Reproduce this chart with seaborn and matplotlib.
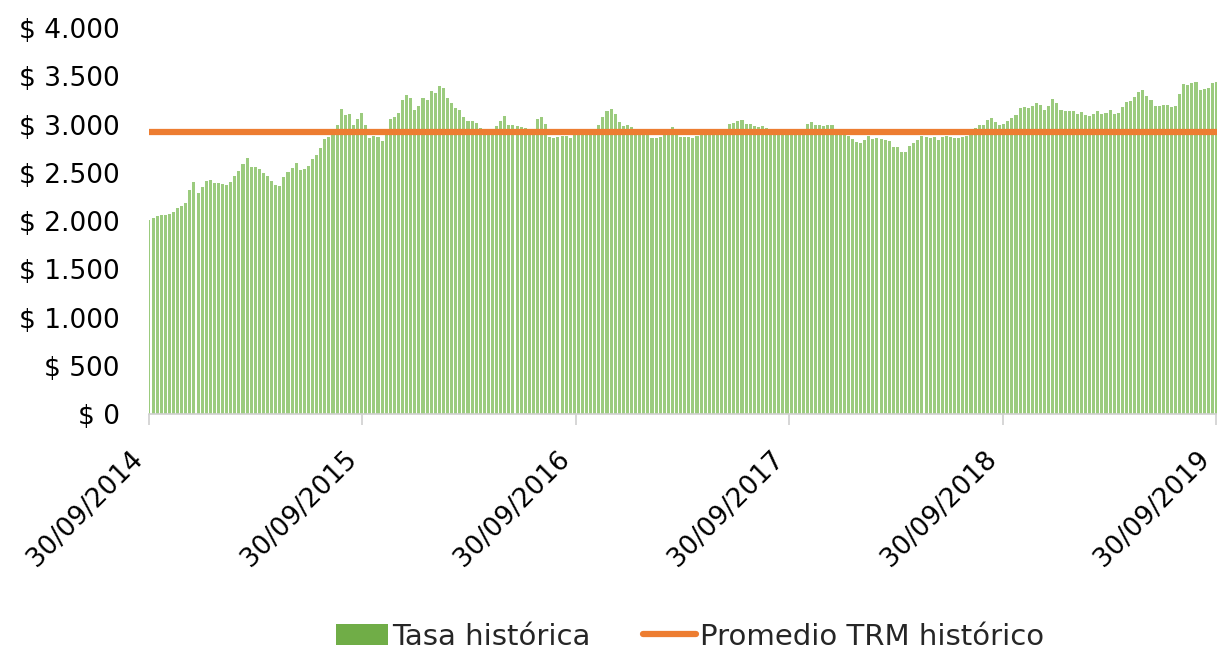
import pandas as pd
import matplotlib
matplotlib.use("Agg")
import matplotlib.pyplot as plt
import matplotlib.transforms as mtransforms
import seaborn as sns
from matplotlib.patches import Patch
from matplotlib.lines import Line2D
from matplotlib.ticker import FuncFormatter

# weekly TRM (COP per USD), starting 30/09/2014
start_date = "2014-09-30"
trm_2014_2015 = [2010, 2030, 2050, 2060, 2065, 2075, 2090, 2140, 2160, 2190, 2320, 2400, 2295,
                 2355, 2410, 2425, 2395, 2390, 2385, 2375, 2400, 2465, 2520, 2590, 2650, 2560,
                 2555, 2540, 2500, 2465, 2410, 2370, 2365, 2460, 2510, 2550, 2600, 2530, 2540,
                 2565, 2640, 2685, 2760, 2845, 2870, 2940, 3000, 3160, 3100, 3110, 3000, 3060]
trm_2015_2016 = [3115, 3000, 2865, 2880, 2875, 2825, 2890, 3055, 3080, 3120, 3250, 3310, 3270,
                 3150, 3190, 3270, 3255, 3350, 3325, 3400, 3375, 3275, 3220, 3170, 3150, 3080,
                 3040, 3035, 3020, 2960, 2900, 2930, 2955, 2980, 3040, 3090, 3000, 2990, 2985,
                 2975, 2960, 2930, 2940, 3060, 3080, 3010, 2875, 2860, 2870, 2880, 2885, 2860]
trm_2016_2017 = [2890, 2905, 2915, 2925, 2925, 2945, 2990, 3080, 3135, 3165, 3110, 3030, 2985,
                 2995, 2975, 2935, 2900, 2895, 2910, 2865, 2855, 2875, 2895, 2910, 2970, 2950,
                 2875, 2875, 2870, 2860, 2885, 2900, 2910, 2890, 2895, 2890, 2905, 2930, 3010,
                 3015, 3040, 3050, 3010, 3010, 2985, 2975, 2980, 2960, 2925, 2890, 2895, 2890]
trm_2017_2018 = [2900, 2910, 2905, 2910, 2955, 3005, 3025, 2995, 2995, 2980, 2990, 2990, 2955,
                 2910, 2955, 2880, 2850, 2820, 2810, 2835, 2885, 2845, 2855, 2845, 2840, 2830,
                 2770, 2770, 2720, 2720, 2780, 2805, 2835, 2880, 2870, 2860, 2870, 2840, 2870,
                 2885, 2875, 2857, 2857, 2870, 2885, 2910, 2960, 2995, 2990, 3050, 3065, 3025]
trm_2018_2019 = [2995, 3010, 3040, 3070, 3100, 3170, 3180, 3170, 3195, 3225, 3200, 3155, 3190,
                 3265, 3225, 3150, 3135, 3140, 3145, 3105, 3125, 3100, 3085, 3110, 3145, 3110,
                 3120, 3150, 3105, 3120, 3185, 3230, 3245, 3280, 3335, 3355, 3300, 3250, 3195,
                 3195, 3205, 3200, 3185, 3190, 3320, 3420, 3410, 3430, 3440, 3360, 3365, 3375,
                 3425, 3445]
trm_average = 2925

year_ticks = ["2014-09-30", "2015-09-30", "2016-09-30", "2017-09-30", "2018-09-30", "2019-09-30"]
y_ticks = [0, 500, 1000, 1500, 2000, 2500, 3000, 3500, 4000]

trm = trm_2014_2015 + trm_2015_2016 + trm_2016_2017 + trm_2017_2018 + trm_2018_2019
dates = pd.date_range(start_date, periods=len(trm), freq="7D")
df = pd.DataFrame({"fecha": dates, "trm": trm})
t0 = pd.Timestamp(start_date)
df["dia"] = (df["fecha"] - t0).dt.days
tick_days = [(pd.Timestamp(d) - t0).days for d in year_ticks]
tick_labels = [pd.Timestamp(d).strftime("%d/%m/%Y") for d in year_ticks]

sns.set_theme(style="white")
plt.rcParams["font.family"] = ["DejaVu Sans"]

fig = plt.figure(figsize=(12.17, 6.51), dpi=100)
ax = fig.add_axes([0.1224, 0.364, 0.8776, 0.593])

green = "#70AD47"
orange = "#ED7D31"

sns.barplot(data=df, x="dia", y="trm", native_scale=True, color="#9bcb7e",
            saturation=1, width=0.75, errorbar=None, ax=ax, linewidth=0)
ax.axhline(trm_average, color=orange, lw=4.5, zorder=3)

ax.set_xlim(0, 1828)
ax.set_ylim(0, 4000)
ax.set_xticks(tick_days)
ax.set_xticklabels(tick_labels, rotation=45, ha="right", va="center", rotation_mode="anchor")
ax.set_yticks(y_ticks)
ax.yaxis.set_major_formatter(FuncFormatter(lambda v, p: "$ " + f"{v:,.0f}".replace(",", ".")))
ax.set_xlabel("")
ax.set_ylabel("")

for s in ["top", "right", "left"]:
    ax.spines[s].set_visible(False)
ax.spines["bottom"].set_color("#d0d0d0")
ax.spines["bottom"].set_linewidth(1.2)
ax.tick_params(axis="x", bottom=True, direction="out", length=8, width=1.2, color="#d0d0d0",
               labelsize=19, pad=22, labelcolor="black")
ax.tick_params(axis="y", left=False, labelsize=19, pad=15, labelcolor="black")

# nudge the rotated date labels a little to the left so the last one stays inside
shift = mtransforms.ScaledTranslation(-7 / 72, 0, fig.dpi_scale_trans)
for lab in ax.get_xticklabels():
    lab.set_transform(lab.get_transform() + shift)

handles = [Patch(facecolor=green, edgecolor="none", label="Tasa histórica"),
           Line2D([0], [0], color=orange, lw=4.5, label="Promedio TRM histórico")]
fig.legend(handles=handles, loc="center", bbox_to_anchor=(0.567, 0.022), ncol=2,
           frameon=False, fontsize=21, columnspacing=1.8, handlelength=1.8,
           handletextpad=0.15)

fig.savefig("out.png", dpi=100)
